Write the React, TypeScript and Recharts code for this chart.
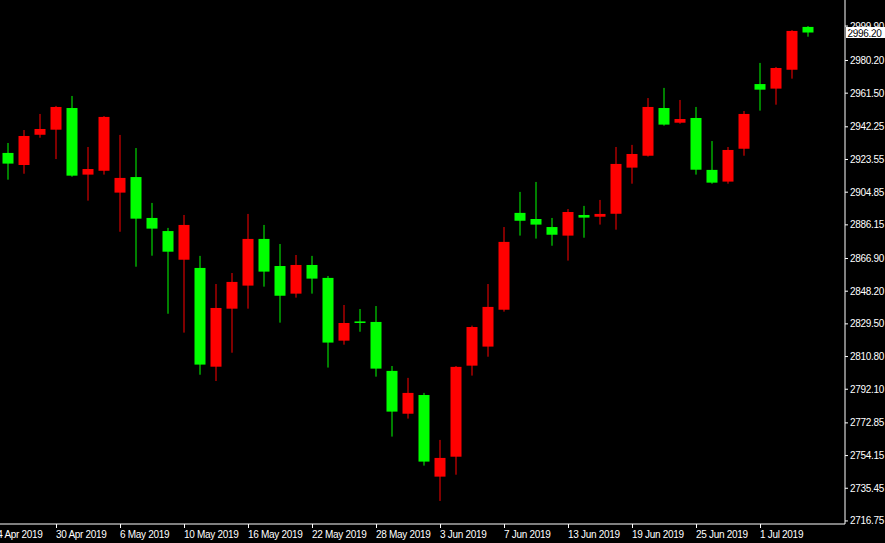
import { ComposedChart, Bar, XAxis, YAxis, ReferenceLine } from 'recharts';

// daily US500 candles, 25 Apr 2019 .. 4 Jul 2019
const opens = [
  2927.3, 2920.4, 2937.7, 2940.6, 2953.0, 2914.9, 2917.1, 2904.6, 2913.5, 2890.1,
  2882.6, 2866.2, 2861.5, 2805.0, 2838.2, 2851.4, 2878.1, 2862.6, 2846.8, 2863.2,
  2855.8, 2819.9, 2830.9, 2830.6, 2802.6, 2778.1, 2788.8, 2742.1, 2753.5, 2805.6,
  2816.5, 2837.6, 2893.0, 2889.5, 2884.9, 2880.0, 2891.8, 2890.8, 2892.5, 2918.9,
  2925.7, 2953.0, 2944.6, 2947.3, 2917.6, 2910.9, 2929.7, 2966.7, 2964.1, 2974.9,
  2999.4,
];
const highs = [
  2933.0, 2940.4, 2949.6, 2954.2, 2959.9, 2930.7, 2948.4, 2937.6, 2930.1, 2898.7,
  2884.4, 2891.8, 2868.4, 2852.3, 2858.6, 2892.4, 2886.1, 2875.2, 2868.9, 2868.4,
  2856.9, 2840.3, 2838.0, 2839.7, 2805.4, 2798.6, 2790.0, 2763.1, 2805.4, 2828.5,
  2852.3, 2884.9, 2905.0, 2910.7, 2890.1, 2895.2, 2897.0, 2900.4, 2930.7, 2931.9,
  2958.7, 2964.5, 2957.6, 2953.6, 2934.1, 2930.7, 2951.3, 2978.8, 2976.5, 2997.6,
  2999.9,
];
const lows = [
  2912.0, 2915.4, 2936.0, 2923.8, 2913.7, 2900.0, 2914.9, 2882.2, 2862.2, 2868.5,
  2835.3, 2824.5, 2800.4, 2796.8, 2813.0, 2838.2, 2850.8, 2830.2, 2844.5, 2846.8,
  2804.5, 2817.6, 2825.0, 2799.3, 2765.0, 2775.3, 2748.4, 2728.2, 2743.2, 2799.9,
  2810.7, 2836.5, 2880.0, 2878.3, 2874.2, 2865.7, 2878.8, 2886.3, 2883.4, 2909.7,
  2925.2, 2942.9, 2944.0, 2914.9, 2909.7, 2909.7, 2925.7, 2951.5, 2954.9, 2969.8,
  2993.8,
];
const closes = [
  2921.2, 2937.0, 2941.0, 2953.6, 2914.3, 2918.1, 2947.9, 2913.0, 2889.7, 2884.0,
  2870.8, 2886.1, 2806.2, 2838.6, 2853.5, 2878.1, 2859.4, 2845.6, 2863.2, 2855.4,
  2818.8, 2830.0, 2830.0, 2803.9, 2779.3, 2790.0, 2750.7, 2752.8, 2804.9, 2827.7,
  2839.2, 2876.4, 2888.5, 2886.3, 2880.5, 2893.5, 2890.3, 2892.4, 2921.0, 2926.7,
  2953.6, 2943.5, 2946.7, 2917.7, 2910.3, 2929.0, 2949.6, 2963.5, 2975.9, 2997.1,
  2996.2,
];

// bar index of each date label (-1 = the day before the first candle)
const dateTickIdx = [-1, 3, 7, 11, 15, 19, 23, 27, 31, 35, 39, 43, 47];
const dateTickLabels = [
  '24 Apr 2019', '30 Apr 2019', '6 May 2019', '10 May 2019', '16 May 2019', '22 May 2019',
  '28 May 2019', '3 Jun 2019', '7 Jun 2019', '13 Jun 2019', '19 Jun 2019', '25 Jun 2019', '1 Jul 2019',
];
const priceTicks = [
  2716.75, 2735.45, 2754.15, 2772.85, 2792.1, 2810.8, 2829.5, 2848.2,
  2866.9, 2886.15, 2904.85, 2923.55, 2942.25, 2961.5, 2980.2, 2999.9,
];
const lastPrice = 2996.2;

const UP = '#ff0000';
const DOWN = '#00ff00';
const FONT = "'Liberation Sans', Arial, sans-serif";

const data = opens.map((o, i) => ({
  idx: i,
  o,
  h: highs[i],
  l: lows[i],
  c: closes[i],
  range: [lows[i], highs[i]],
}));

const Candle = (props: any) => {
  const { x, y, width, height, payload } = props;
  if (!payload) return null;
  const { o, h, l, c } = payload;
  const top0 = height < 0 ? y + height : y;
  const hh = Math.abs(height);
  const k = hh / (h - l);
  const bodyTop = top0 + (h - Math.max(o, c)) * k;
  const bodyBot = top0 + (h - Math.min(o, c)) * k;
  const cx = x + width / 2;
  const color = c >= o ? UP : DOWN;
  return (
    <g>
      <line x1={cx} x2={cx} y1={top0} y2={top0 + hh} stroke={color} strokeWidth={1} />
      <rect x={x} y={bodyTop} width={width} height={Math.max(bodyBot - bodyTop, 1.5)} fill={color} />
    </g>
  );
};

const DateTick = (props: any) => {
  const { x, y, payload } = props;
  const pos = dateTickIdx.indexOf(payload.value);
  return (
    <text x={x - 0.5} y={y + 8} fill="#ffffff" fontSize={10} fontFamily={FONT} letterSpacing={-0.3} textAnchor="start">
      {pos >= 0 ? dateTickLabels[pos] : ''}
    </text>
  );
};

const PriceTag = (props: any) => {
  const vb = props.viewBox || {};
  const cy = vb.y;
  const left = vb.x + vb.width + 1;
  return (
    <g>
      <rect x={left} y={cy - 5.5} width={40} height={11} fill="#ffffff" />
      <text x={left + 1.5} y={cy + 4} fill="#000000" fontSize={10} fontFamily={FONT} letterSpacing={-0.3}>
        {lastPrice.toFixed(2)}
      </text>
    </g>
  );
};

export default function App() {
  return (
    <div style={{ position: 'absolute', left: 0, top: 0, width: 885, height: 543, background: '#000000' }}>
      <ComposedChart
        width={885}
        height={543}
        data={data}
        margin={{ top: 0, right: 0, bottom: 0, left: 0 }}
        style={{ background: '#000000' }}
      >
        <XAxis
          dataKey="idx"
          type="number"
          domain={[-0.53125, 52.28125]}
          allowDataOverflow
          ticks={dateTickIdx}
          interval={0}
          height={19}
          tickSize={4}
          tick={<DateTick />}
          tickLine={{ stroke: '#ffffff' }}
          axisLine={{ stroke: '#ffffff' }}
        />
        <YAxis
          orientation="right"
          width={40}
          domain={[2715.0, 3014.8]}
          allowDataOverflow
          ticks={priceTicks}
          interval={0}
          tickSize={3}
          tickFormatter={(v: number) => v.toFixed(2)}
          tick={{ fill: '#ffffff', fontSize: 10, fontFamily: FONT, letterSpacing: -0.3 }}
          tickLine={{ stroke: '#ffffff' }}
          axisLine={{ stroke: '#ffffff' }}
        />
        <Bar dataKey="range" barSize={11} shape={<Candle />} isAnimationActive={false} />
        <ReferenceLine y={lastPrice} stroke="#000000" strokeOpacity={0} label={<PriceTag />} />
      </ComposedChart>
    </div>
  );
}
